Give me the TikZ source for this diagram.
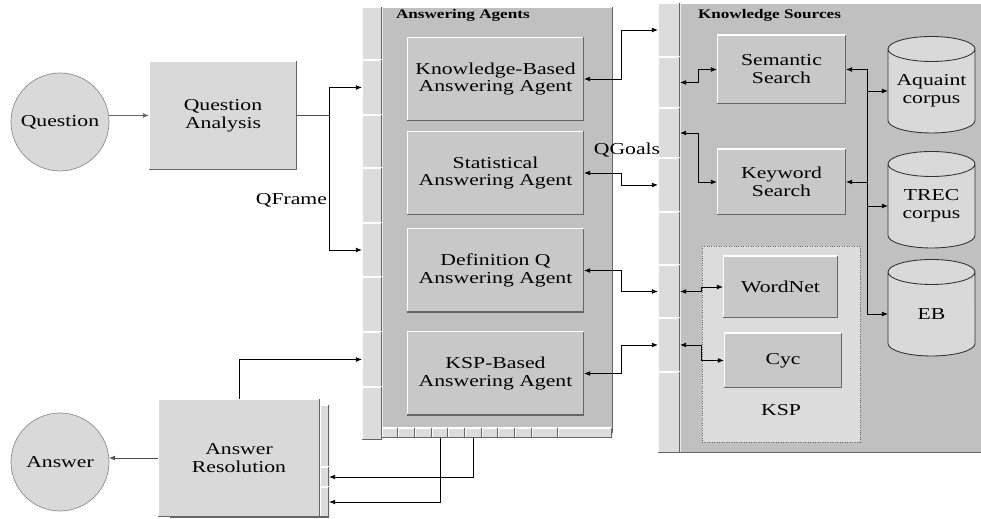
\documentclass[tikz,border=0pt]{standalone}
\usepackage{fontspec}
\setmainfont{Liberation Serif}[FakeStretch=1.3]
\usepackage{tikz}
\usetikzlibrary{calc,
                 arrows.meta
  }

\definecolor{panelgray}{HTML}{C0C0C0}
\definecolor{boxgray}{HTML}{C8C8C8}
\definecolor{lightgray}{HTML}{D9D9D9}
\definecolor{stripgray}{HTML}{DCDCDC}

\begin{document}
\begin{tikzpicture}[
      x=0.02cm, y=-0.02cm,
      every node/.style={font=\fontsize{9.5}{10.2}\selectfont, inner sep=0pt, outer sep=0pt},
      raised/.style={
                path picture={
                  \draw[white, line width=1pt] (path picture bounding box.south west) -- (path picture bounding box.north west) -- (path picture bounding box.north east);
                  \draw[black!60, line width=1.2pt] (path picture bounding box.north east) -- (path picture bounding box.south east) -- (path picture bounding box.south west);
                  }
                },
      panel/.style={
                rectangle,
                fill=panelgray,
                raised
                },
      agent/.style={
                rectangle,
                fill=boxgray,
                text centered,
                align=center,
                minimum width=3.54cm,
                minimum height=1.68cm,
                raised
                },
      source/.style={
                rectangle,
                fill=boxgray,
                align=center,
                raised
                },
      stripbox/.style={
                rectangle,
                fill=stripgray,
                raised
                },
      endpoint/.style={
                circle,
                fill=lightgray,
                draw=black!45,
                minimum size=1.96cm
                },
      stage/.style={
                rectangle,
                fill=lightgray,
                align=center,
                raised
                },
      store/.style={
                rectangle,
                align=center,
                minimum width=1.74cm,
                minimum height=1.68cm
                },
      title/.style={font=\fontsize{7.5}{8}\selectfont\bfseries, anchor=west},
      arr/.style={-{Latex[length=3.5pt,width=2.8pt]}, line width=0.5pt},
      dblarr/.style={{Latex[length=3.5pt,width=2.8pt]}-{Latex[length=3.5pt,width=2.8pt]}, line width=0.5pt}
]

\fill[white] (0,0) rectangle (981,519);
\useasboundingbox (0,0) rectangle (981,519);

\node[endpoint] (question) at (60,122) {Question};
\node[stage, minimum width=2.96cm, minimum height=2.18cm] (qa) at (223,115.5) {Question\\Analysis};

\node[endpoint] (answer) at (60,462) {Answer};
\node[stage, minimum width=3.18cm, minimum height=2.26cm] (arback) at (249.5,461.5) {};
\foreach \ya/\yb [count=\i] in {405/467,467/487,487/517}
  \node[stripbox, minimum width=0.18cm, minimum height={(\yb-\ya)*0.02cm}] (ar\i) at (324.5,{(\ya+\yb)/2}) {};
\node[stage, minimum width=3.24cm, minimum height=2.36cm] (ar) at (239,458) {Answer\\Resolution};

\node[panel, minimum width=4.62cm, minimum height=8.52cm] (aa) at (497.5,220) {};
\node[title] (aatitle) at (396,15) {Answering Agents};
\foreach \ya/\yb [count=\i] in {7/60,60/115,115/168,168/223,223/277,277/332,332/387,387/440}
  \node[stripbox, minimum width=0.4cm, minimum height={(\yb-\ya)*0.02cm}] (aa\i) at (372,{(\ya+\yb)/2}) {};
\foreach \xa/\xb [count=\i] in {382/398,398/415,415/432,432/448,448/465,465/482,482/498,498/515,515/532,532/558,558/612}
  \node[stripbox, minimum width={(\xb-\xa)*0.02cm}, minimum height=0.2cm] (ab\i) at ({(\xa+\xb)/2},433) {};

\node[agent] (kb) at (495.5,79) {Knowledge-Based\\Answering Agent};
\node[agent] (stat) at (495.5,173) {Statistical\\Answering Agent};
\node[agent] (defq) at (495.5,270.5) {Definition Q\\Answering Agent};
\node[agent] (kspa) at (495.5,373.5) {KSP-Based\\Answering Agent};

\node[panel, minimum width=6.4cm, minimum height=9cm] (ks) at (840,228) {};
\node[title] (kstitle) at (698,15) {Knowledge Sources};
\foreach \ya/\yb [count=\i] in {3/57,57/108,108/158,158/212,212/265,265/318,318/372,372/453}
  \node[stripbox, minimum width=0.44cm, minimum height={(\yb-\ya)*0.02cm}] (ks\i) at (669,{(\ya+\yb)/2}) {};

\node[source, minimum width=2.58cm, minimum height=1.38cm] (sem) at (781.5,69.5) {Semantic\\Search};
\node[source, minimum width=2.58cm, minimum height=1.32cm] (kw) at (781.5,182) {Keyword\\Search};

\node[rectangle, fill=stripgray, draw=black!60, densely dotted, minimum width=3.16cm, minimum height=3.92cm] (ksp) at (781,344) {};
\node (ksplabel) at ($ (ksp.south) + (0,-32) $) {KSP};
\node[source, minimum width=2.3cm, minimum height=1.24cm] (wn) at (780.5,287) {WordNet};
\node[source, minimum width=2.36cm, minimum height=1.1cm] (cyc) at (783,360.5) {Cyc};

% cylinders: the node is the body, the caps are drawn round it
\foreach \yc in {91, 206, 314}
  \draw[fill=lightgray, draw=black!80, line width=0.5pt]
    (888,\yc-42) -- (888,\yc+42-12.5)
    arc[start angle=180, end angle=360, x radius=0.87cm, y radius=0.25cm]
    -- (975,\yc-42)
    arc[start angle=0, end angle=180, x radius=0.87cm, y radius=0.25cm] -- cycle
    (888,\yc-42) arc[start angle=180, end angle=360, x radius=0.87cm, y radius=0.25cm];
\node[store] (aq) at (931.5,91) {Aquaint\\corpus};
\node[store] (trec) at (931.5,206) {TREC\\corpus};
\node[store] (eb) at (931.5,314) {EB};

\draw[arr, black!60] (question.east |- qa.west) -- (qa.west);
\draw[line width=0.8pt, black!70] (qa.east) -- ++(32,0) coordinate (qfsplit);
\draw[arr] (qfsplit) |- (aa2.west);
\draw[arr] (qfsplit) |- (aa5.west);
\node[anchor=east] (qframe) at (327,200) {QFrame};

\draw[arr] (ar.north) |- (aa7.west);
\draw[arr, black!70] (ar.west) -- (answer.east |- ar.west);
\draw[arr] (ab6.south) |- (ar2.east);
\draw[arr] (ab4.south) |- (ar3.east);

\draw[dblarr] (kb.east) -- ++(37,0) |- (ks1.west);
\draw[dblarr] (stat.east) -- ++(37,0) |- (ks4.west);
\draw[dblarr] (defq.east) -- ++(37,0) |- (ks6.west);
\draw[dblarr] (kspa.east) -- ++(37,0) |- (ks7.west);
\node (qgoals) at (627,150) {QGoals};

\draw[dblarr] (ks2.east) -- ++(18,0) |- (sem.west);
\draw[dblarr] (ks3.east) -- ++(18,0) |- (kw.west);
\draw[dblarr] (ks6.east) -- ++(21,0) |- (wn.west);
\draw[dblarr] (ks7.east) -- ++(21,0) |- (cyc.west);

\draw[dblarr] (sem.east) -- ++(21,0) coordinate (bus) |- (eb.west);
\draw[arr] (bus |- aq.west) -- (aq.west);
\draw[arr] (bus |- kw.east) -- (kw.east);
\draw[arr] (bus |- trec.west) -- (trec.west);

\end{tikzpicture}
\end{document}
